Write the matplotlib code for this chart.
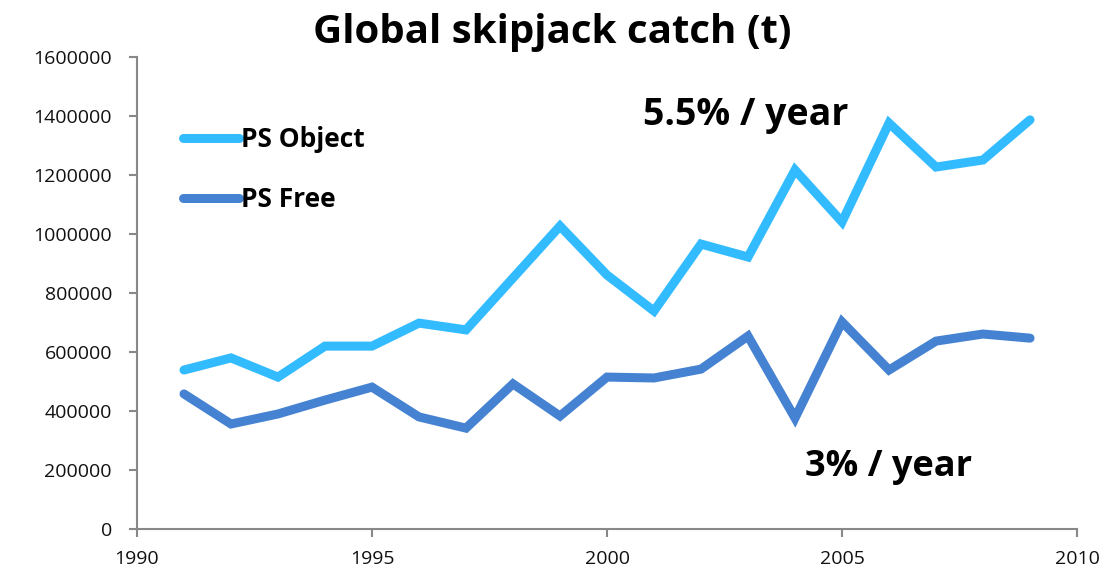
import matplotlib
matplotlib.use("Agg")
import matplotlib.pyplot as plt
from matplotlib.ticker import FuncFormatter

# data
years = list(range(1991, 2010))
ps_object = [539000, 580000, 515000, 620000, 620000, 698000, 675000, 851000,
             1027000, 861000, 739000, 966000, 922000, 1217000, 1041000,
             1376000, 1227000, 1251000, 1387000]
ps_free = [458000, 356000, 390000, 437000, 481000, 380000, 342000, 492000,
           383000, 515000, 512000, 542000, 654000, 376000, 702000, 539000,
           637000, 661000, 647000]
series_names = ["PS Object", "PS Free"]
colors = ["#33BBFF", "#4682D2"]

plt.rcParams['font.family'] = ['Open Sans', 'DejaVu Sans']

fig = plt.figure(figsize=(11.1, 5.8), dpi=100)
ax = fig.add_axes([0.1234, 0.0879, 0.8469, 0.8138])

for vals, name, c in zip([ps_object, ps_free], series_names, colors):
    ax.plot(years, vals, color=c, lw=6.5, solid_capstyle='round',
            solid_joinstyle='miter', label=name)

ax.set_xlim(1990, 2010)
ax.set_ylim(0, 1600000)
ax.set_xticks(range(1990, 2011, 5))
ax.set_yticks(range(0, 1600001, 200000))
ax.yaxis.set_major_formatter(FuncFormatter(lambda v, p: "%d" % v))
ax.tick_params(labelsize=14, labelcolor='#111111', color='#888888',
               length=6, width=1.5, direction='out')
ax.tick_params(axis='y', pad=12)
ax.tick_params(axis='x', pad=9)
for s in ['top', 'right']:
    ax.spines[s].set_visible(False)
for s in ['left', 'bottom']:
    ax.spines[s].set_color('#888888')
    ax.spines[s].set_linewidth(1.5)

leg = ax.legend(loc='center left', bbox_to_anchor=(0.038, 0.762), frameon=False,
                prop={'weight': 'bold', 'size': 19}, handlelength=2.1,
                handletextpad=0.1, labelspacing=1.25, borderaxespad=0)

fig.text(552 / 1110, 1 - 33 / 580, "Global skipjack catch (t)", fontsize=29,
         fontweight='bold', ha='center', va='center')
ax.text(0.647, 0.877, "5.5% / year", transform=ax.transAxes, fontsize=27,
        fontweight='bold', ha='center', va='center')
ax.text(0.799, 0.131, "3% / year", transform=ax.transAxes, fontsize=26,
        fontweight='bold', ha='center', va='center')

fig.savefig("out.png", dpi=100)
